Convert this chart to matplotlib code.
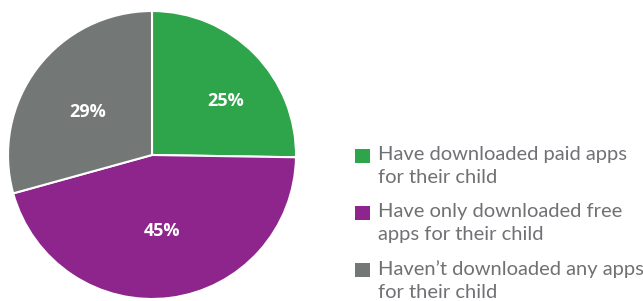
import matplotlib
matplotlib.use("Agg")
from matplotlib import pyplot as plt
from matplotlib.patches import Rectangle

labels = ["Have downloaded paid apps\nfor their child",
          "Have only downloaded free\napps for their child",
          "Haven\u2019t downloaded any apps\nfor their child"]
values = [25, 45, 29]
colors = ["#2ea44b", "#8e258d", "#737776"]
text_color = "#707174"

fig = plt.figure(figsize=(6.43, 3.01), dpi=100)
W, H = 643.0, 301.0

# pie sits on the left, roughly 288px across
ax = fig.add_axes([8 / W, 2 / H, 288 / W, 288 / H])
wedges, texts, autotexts = ax.pie(
    values, colors=colors, startangle=90, counterclock=False,
    autopct=lambda p: "%d%%" % round(p * sum(values) / 100.0),
    pctdistance=0.56,
    wedgeprops=dict(edgecolor="white", linewidth=1.5),
    textprops=dict(color="white", fontsize=13, fontweight="bold",
                   family=["Open Sans", "DejaVu Sans"]))
ax.set_aspect("equal")
ax.set_xlim(-1.0, 1.0)
ax.set_ylim(-1.0, 1.0)
# small nudges so the labels sit where the original has them
nudges = [(0.11, -0.02), (0.0, 0.03), (0.0, -0.04)]
for t, (dx, dy) in zip(autotexts, nudges):
    x, y = t.get_position()
    t.set_position((x + dx, y + dy))

# legend drawn by hand so the square lines up with the first text line
box_x, text_x = 355, 378
first_top = 149
step = 57
for i, (lab, col) in enumerate(zip(labels, colors)):
    top = first_top + i * step
    fig.patches.append(Rectangle((box_x / W, 1 - (top + 14) / H), 15 / W, 14 / H,
                                 transform=fig.transFigure, facecolor=col,
                                 edgecolor="none"))
    fig.text(text_x / W, 1 - (top - 3) / H, lab, ha="left", va="top",
             fontsize=14.5, color=text_color,
             family=["Lato", "DejaVu Sans"], linespacing=1.45)

fig.savefig("out.png", dpi=100)
